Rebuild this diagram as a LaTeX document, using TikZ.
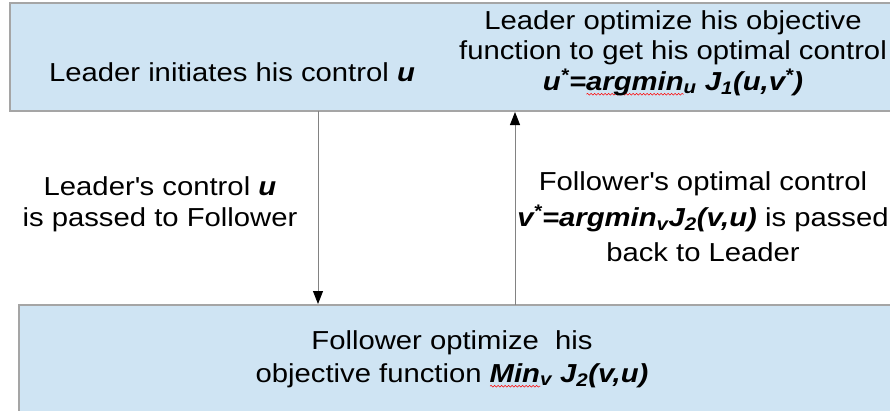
\documentclass[tikz,border=0pt]{standalone}
\usepackage{fontspec}
\setmainfont{Liberation Sans}
\newfontfamily\widefont{Liberation Sans}[FakeStretch=1.125]
\usetikzlibrary{arrows.meta,decorations.pathmorphing}
\definecolor{boxfill}{RGB}{207,228,243}
\definecolor{boxline}{RGB}{165,165,165}
\definecolor{arrline}{RGB}{130,130,130}
\newsavebox\wavebox
\newcommand\redwave[1]{\sbox\wavebox{#1}\rlap{\smash{\raisebox{-4pt}{\tikz[baseline=0pt]\draw[red,line width=0.5pt,decorate,decoration={snake,amplitude=0.9pt,segment length=3.5pt}] (0pt,0pt) -- (\wd\wavebox,0pt);}}}\usebox\wavebox}
\newcommand\bi[1]{\textbf{\textit{#1}}}
\newcommand\apos{\textquotesingle}
\begin{document}
\begin{tikzpicture}[x=1pt,y=-1pt,
  panel/.style={draw=boxline,line width=1.2pt,fill=boxfill},
  txt/.style={font=\widefont\fontsize{26}{31}\selectfont,align=center,inner sep=0pt},
  flow/.style={draw=arrline,line width=0.9pt,-{Triangle[length=13pt,width=10pt,fill=black,color=black]}}]
\useasboundingbox (0,0) rectangle (890,410);
\path[panel] (10,3) rectangle (895,111);
\path[panel] (19,305) rectangle (895,415);
\node[txt] (lead) at (232,72) {Leader initiates his control \bi{u}};
\node[txt,font=\widefont\fontsize{26}{30.5}\selectfont] (leadopt) at (673,53) {Leader optimize his objective\\function to get his optimal control\\\bi{u\textsuperscript{*}=\redwave{argmin}\textsubscript{u} J\textsubscript{1}(u,v\textsuperscript{*})}};
\node[txt] (pass1) at (160,204) {Leader\apos s control \bi{u}\\is passed to Follower};
\node[txt,font=\widefont\fontsize{26}{35.5}\selectfont] (pass2) at (703,217) {Follower\apos s optimal control\\\bi{v\textsuperscript{*}=argmin\textsubscript{v}J\textsubscript{2}(v,u)} is passed\\back to Leader};
\node[txt,font=\widefont\fontsize{26}{33}\selectfont] (foll) at (452,359) {Follower optimize\ \ his\\objective function \bi{\redwave{Min}\textsubscript{v} J\textsubscript{2}(v,u)}};
\coordinate (dtop) at (318,111);
\coordinate (dbot) at (318,304);
\coordinate (utop) at (515,112);
\coordinate (ubot) at (515,305);
\draw[flow] (dtop) -- (dbot);
\draw[flow] (ubot) -- (utop);
\end{tikzpicture}
\end{document}
